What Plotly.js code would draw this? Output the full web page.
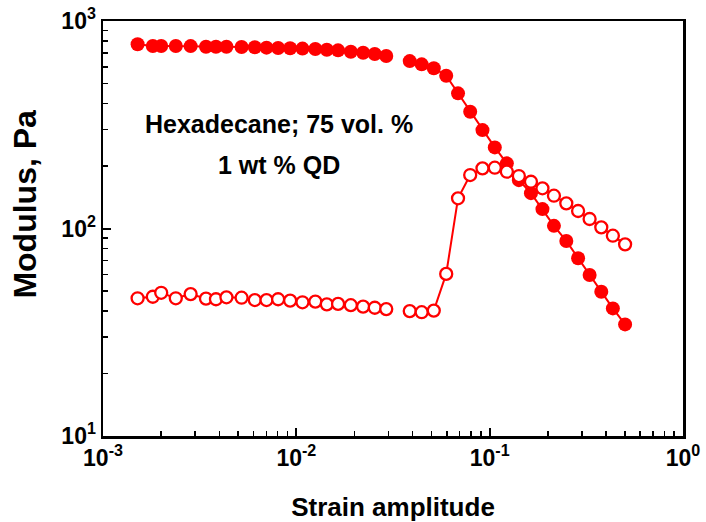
<!DOCTYPE html>
<html>
<head>
<meta charset="utf-8">
<script src="https://cdn.plot.ly/plotly-3.0.1.min.js"></script>
<style>html,body{margin:0;padding:0;background:#fff;}#chart{width:706px;height:522px;}</style>
</head>
<body>
<div id="chart"></div>
<script>
// Strain amplitude, low-strain segment and high-strain segment
const strainA = [0.00151, 0.00181, 0.00200, 0.00238, 0.00284, 0.00341, 0.00384, 0.00435, 0.00521, 0.00610, 0.00701, 0.00805, 0.00929, 0.01076, 0.01254, 0.01438, 0.01644, 0.01913, 0.02215, 0.02545, 0.02918];
const strainB = [0.0386, 0.0445, 0.0514, 0.0596, 0.0686, 0.0793, 0.0918, 0.1063, 0.1227, 0.1416, 0.1635, 0.1875, 0.2150, 0.2491, 0.2867, 0.3288, 0.3779, 0.4337, 0.5017];
// Storage modulus G' (filled circles), Pa
const storageA = [772, 758, 758, 758, 757, 752, 752, 752, 749, 747, 744, 741, 739, 736, 733, 727, 722, 711, 703, 693, 678];
const storageB = [641, 618, 592, 545, 448, 365, 298, 246, 206, 171, 148, 124, 103, 87.1, 71.9, 59.7, 49.6, 41.2, 34.5];
// Loss modulus G'' (open circles), Pa
const lossA = [46.1, 46.9, 49.0, 46.1, 48.3, 45.9, 45.6, 46.6, 46.4, 45.2, 45.2, 45.6, 44.9, 44.1, 44.4, 43.1, 43.3, 42.7, 42.0, 41.5, 40.9];
const lossB = [40.0, 39.5, 40.2, 60.4, 139.8, 181, 195, 196.3, 187.8, 179, 168, 156.2, 143.9, 132.2, 121.4, 111.1, 101.3, 92.3, 83.9];

const xTickVals = [0.001, 0.01, 0.1, 1];
const xTickText = ['10<sup>-3</sup>', '10<sup>-2</sup>', '10<sup>-1</sup>', '10<sup>0</sup>'];
const yTickVals = [10, 100, 1000];
const yTickText = ['10<sup>1</sup>', '10<sup>2</sup>', '10<sup>3</sup>'];
const annotationLines = ['Hexadecane; 75 vol. %', '1 wt % QD'];
const xTitle = 'Strain amplitude';
const yTitle = 'Modulus, Pa';

const RED = '#ff0000';
const FONT = 'Liberation Sans, Arial, sans-serif';

const xs = strainA.concat([null], strainB);
const storage = storageA.concat([null], storageB);
const loss = lossA.concat([null], lossB);

const traces = [
  {x: xs, y: storage, mode: 'lines+markers', connectgaps: false,
   line: {color: RED, width: 2},
   marker: {symbol: 'circle', size: 14, color: RED, line: {color: RED, width: 0}},
   name: "G'"},
  {x: xs, y: loss, mode: 'lines+markers', connectgaps: false,
   line: {color: RED, width: 2},
   marker: {symbol: 'circle', size: 12, color: '#ffffff', line: {color: RED, width: 2.3}},
   name: "G''"}
];

const axisCommon = {
  type: 'log', showline: true, linecolor: '#000', linewidth: 2.5, mirror: true,
  ticks: 'inside', ticklen: 8, tickwidth: 2, tickcolor: '#000',
  showgrid: false, zeroline: false,
  tickfont: {family: FONT, size: 23, color: '#000', weight: 'bold'},
  minor: {ticks: 'inside', ticklen: 5, tickwidth: 1.5, tickcolor: '#000', dtick: 'D1', showgrid: false}
};

const layout = {
  width: 706, height: 522,
  margin: {l: 103, r: 23, t: 21, b: 86},
  paper_bgcolor: '#fff', plot_bgcolor: '#fff',
  showlegend: false,
  xaxis: Object.assign({}, axisCommon, {
    range: [-3, 0], tickvals: xTickVals, ticktext: xTickText,
    title: {text: xTitle, font: {family: FONT, size: 26, color: '#000', weight: 'bold'}, standoff: 29}
  }),
  yaxis: Object.assign({}, axisCommon, {
    range: [1, 3], tickvals: yTickVals, ticktext: yTickText
  }),
  annotations: [
    {xref: 'paper', yref: 'paper', x: 0.3026, y: 0.753, text: annotationLines[0],
     showarrow: false, xanchor: 'center', yanchor: 'middle',
     font: {family: FONT, size: 25, color: '#000', weight: 'bold'}},
    {xref: 'paper', yref: 'paper', x: 0.3026, y: 0.653, text: annotationLines[1],
     showarrow: false, xanchor: 'center', yanchor: 'middle',
     font: {family: FONT, size: 25, color: '#000', weight: 'bold'}},
    {xref: 'paper', yref: 'paper', x: -0.1345, y: 0.56, text: yTitle, textangle: -90,
     showarrow: false, xanchor: 'center', yanchor: 'middle',
     font: {family: FONT, size: 32, color: '#000', weight: 'bold'}}
  ]
};

Plotly.newPlot('chart', traces, layout, {displayModeBar: false, staticPlot: true});
</script>
</body>
</html>
